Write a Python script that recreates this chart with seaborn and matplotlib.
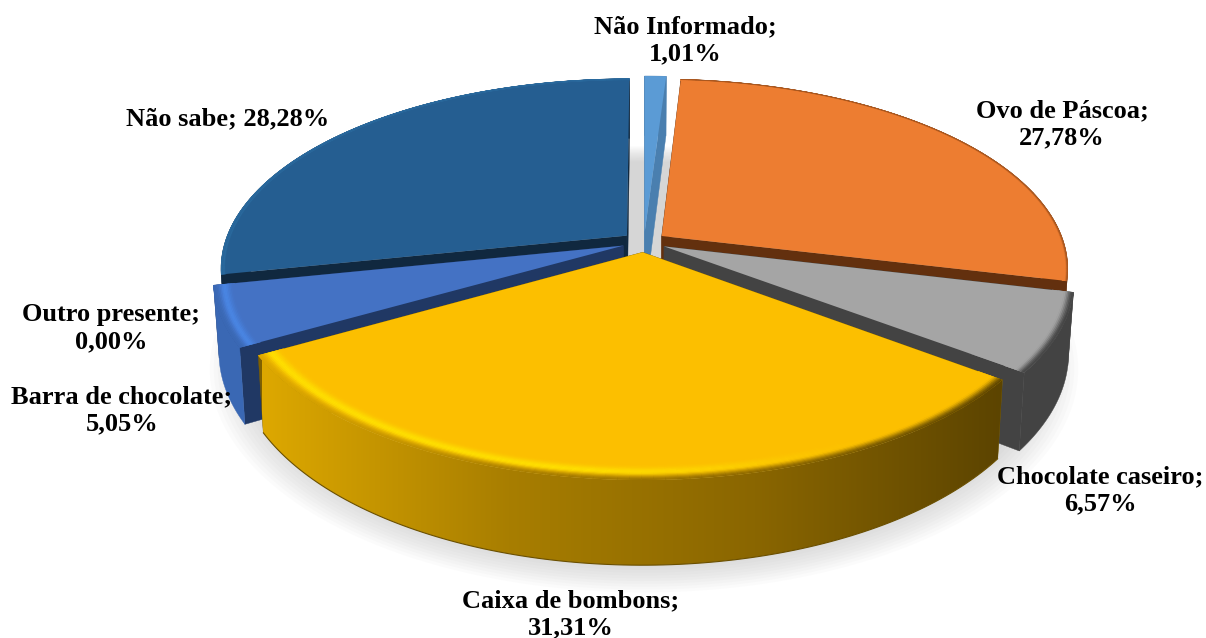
import numpy as np
import matplotlib
matplotlib.use("Agg")
import matplotlib.pyplot as plt
import seaborn as sns
from matplotlib.collections import PolyCollection
from matplotlib.colors import LinearSegmentedColormap, to_rgb
from matplotlib.path import Path
from matplotlib.transforms import Transform

categories = ["Não Informado", "Ovo de Páscoa", "Chocolate caseiro", "Caixa de bombons",
              "Barra de chocolate", "Outro presente", "Não sabe"]
values = [1.01, 27.78, 6.57, 31.31, 5.05, 0.00, 28.28]
top_colors = ["#5B9BD5", "#ED7D31", "#A5A5A5", "#FCBF00", "#4472C4", "#5B9BD5", "#255E91"]
cut_colors = ["#4A7FAF", "#63300E", "#434343", "#7F6000", "#203864", "#203864", "#10283F"]
wall_colors = ["#4A7FAF", "#63300E", "#434343", "#8A6600", "#3A68B4", "#3A68B4", "#10283F"]
rim_colors = ["#4A7FAF", "#A8561F", "#434343", "#8A6600", "#3A68B4", "#3A68B4", "#2A6A9E"]
hi_colors = ["#5B9BD5", "#ED7D31", "#A5A5A5", "#FFDF00", "#4A86E4", "#5B9BD5", "#2A6A9E"]

sns.set_theme(style="white")
plt.rcParams["font.family"] = ["Liberation Serif", "DejaVu Serif"]

W, H = 1206, 638
CX, CY, RX, RY, PERSP, DEPTH = 644.0, 242.0, 402.0, 185.4, 0.169, 70.0


def project(x, y, z=0.0):
    x, y = np.asarray(x, float), np.asarray(y, float)
    w = 1 + PERSP * y
    return CX + RX * x / w * (1 - 0.013 * z), CY - RY * y / w + DEPTH * z / w


class DiskProjection(Transform):
    input_dims = output_dims = 2
    is_affine = False

    def transform_non_affine(self, values):
        values = np.asarray(values, float)
        return np.column_stack(project(values[:, 0], values[:, 1]))


fig = plt.figure(figsize=(W / 100, H / 100), dpi=100, facecolor="white")
ax = fig.add_axes([0, 0, 1, 1])

wedges, _ = ax.pie(values, colors=sns.color_palette(top_colors), startangle=90, counterclock=False,
                   explode=[0.055] * len(values), wedgeprops={"linewidth": 0})
ax.set_aspect("auto")
ax.set_xlim(0, W)
ax.set_ylim(H, 0)
ax.axis("off")
disk = DiskProjection() + ax.transData

# soft shadow under the pie
circle = np.linspace(0, 2 * np.pi, 240)
for scale in np.linspace(1.075, 0.97, 12):
    sx, sy = project(scale * np.cos(circle), scale * np.sin(circle) - 0.02, 1.18)
    ax.fill(sx, sy, color="#808080", alpha=0.028, lw=0, zorder=1)

yellow_cmap = LinearSegmentedColormap.from_list("side", ["#DDA800", "#A87E00", "#8A6600", "#5C4400"])


def side_gradient(px):
    return np.array(yellow_cmap(np.clip((np.asarray(px) - 262) / 740, 0, 1)))[..., :3]


def arc(wedge, radius=1.0, n=120):
    t = np.radians(np.linspace(wedge.theta1, wedge.theta2, n))
    cx, cy = wedge.center
    return cx + radius * wedge.r * np.cos(t), cy + radius * wedge.r * np.sin(t)


def smooth(v):
    v = np.clip(v, 0, 1)
    return v * v * (3 - 2 * v)


def draw_rim(wedge, top, side, hi, width, z, gradient=False):
    bands = np.linspace(1 - width, 1, 15)
    polys, cols = [], []
    for b0, b1 in zip(bands[:-1], bands[1:]):
        x0, y0 = arc(wedge, b0, 80)
        x1, y1 = arc(wedge, b1, 80)
        px0, py0 = project(x0, y0)
        px1, py1 = project(x1, y1)
        t = (b0 + b1 - 2 * (1 - width)) / (2 * width)
        for i in range(len(x0) - 1):
            polys.append([(px0[i], py0[i]), (px0[i + 1], py0[i + 1]), (px1[i + 1], py1[i + 1]), (px1[i], py1[i])])
            base = side_gradient(px1[i]) if gradient else np.array(to_rgb(side))
            h = smooth((900 - px1[i]) / 350) if gradient else 1.0
            dark = smooth((t - 0.55) / 0.45)
            glow = h * np.exp(-((t - 0.5) / 0.24) ** 2)
            c = np.array(to_rgb(top)) + (np.array(to_rgb(hi)) - np.array(to_rgb(top))) * glow
            cols.append(c + (base - c) * dark)
    ax.add_collection(PolyCollection(polys, facecolors=cols, edgecolors=cols, linewidths=0.3, zorder=z))


draw_order = [6, 0, 1, 2, 5, 4, 3]
for rank, idx in enumerate(draw_order):
    wedge = wedges[idx]
    base_z = 10 + rank * 5
    wedge.set_transform(disk)
    wedge.set_zorder(base_z + 2)
    if values[idx] <= 0:
        continue
    ax_, ay_ = arc(wedge)
    cx, cy = wedge.center
    # radial cut faces
    for ex, ey in ((ax_[0], ay_[0]), (ax_[-1], ay_[-1])):
        xs = np.array([cx, ex])
        ys = np.array([cy, ey])
        p0x, p0y = project(xs, ys, 0)
        p1x, p1y = project(xs, ys, 1)
        ax.fill(np.r_[p0x, p1x[::-1]], np.r_[p0y, p1y[::-1]], color=cut_colors[idx], lw=0.3, zorder=base_z)
    # outer wall
    p0x, p0y = project(ax_, ay_, 0)
    p1x, p1y = project(ax_, ay_, 1)
    wall_x, wall_y = np.r_[p0x, p1x[::-1]], np.r_[p0y, p1y[::-1]]
    if categories[idx] == "Caixa de bombons":
        im = ax.imshow(np.linspace(0, 1, 256)[None, :], cmap=yellow_cmap, aspect="auto",
                       extent=[262, 1002, H, 0], zorder=base_z + 1)
        im.set_clip_path(Path(np.column_stack([wall_x, wall_y])), ax.transData)
        ax.plot(p1x, p1y, color="#6A4F00", lw=0.8, zorder=base_z + 1)
        draw_rim(wedge, top_colors[idx], rim_colors[idx], hi_colors[idx], 0.06, base_z + 3, gradient=True)
    else:
        ax.fill(wall_x, wall_y, color=wall_colors[idx], lw=0.3, zorder=base_z + 1)
        if categories[idx] != "Não Informado":
            width = 0.05 if categories[idx] in ("Chocolate caseiro", "Barra de chocolate") else 0.012
            draw_rim(wedge, top_colors[idx], rim_colors[idx], hi_colors[idx], width, base_z + 3)

ax.set_xlim(0, W)
ax.set_ylim(H, 0)

label_positions = {
    "Não Informado": (685, 40),
    "Ovo de Páscoa": (1062, 124),
    "Chocolate caseiro": (1100, 490),
    "Caixa de bombons": (571, 614),
    "Barra de chocolate": (122, 410),
    "Outro presente": (111, 328),
    "Não sabe": (228, 119),
}
for name, val in zip(categories, values):
    sep = " " if name == "Não sabe" else "\n"
    text = f"{name};{sep}{val:.2f}%".replace(".", ",")
    x, y = label_positions[name]
    ax.text(x, y, text, ha="center", va="center", fontsize=19, fontweight="bold",
            color="black", linespacing=1.22, zorder=60)

fig.savefig("out.png", dpi=100, facecolor="white")
